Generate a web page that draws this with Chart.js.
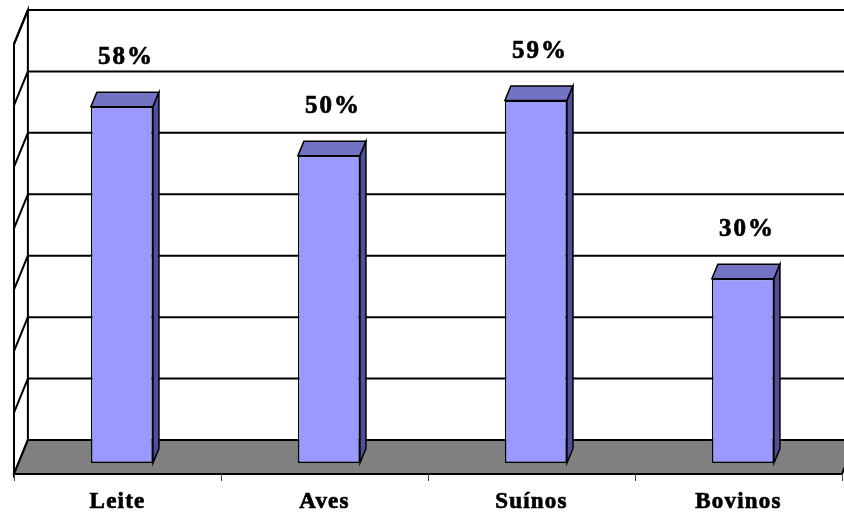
<!DOCTYPE html>
<html>
<head>
<meta charset="utf-8">
<style>
  html, body { margin: 0; padding: 0; background: #fff; }
  #wrap { width: 844px; height: 514px; overflow: hidden; position: relative; }
  #chart { position: absolute; left: 0; top: 0; }
</style>
</head>
<body>
<div id="wrap"><canvas id="chart" width="870" height="514"></canvas></div>

<script src="https://cdn.jsdelivr.net/npm/chart.js"></script>
<script>
/* ---------------- DATA ---------------- */
const categories = ['Leite', 'Aves', 'Suínos', 'Bovinos'];
const values = [58, 50, 59, 30];
const gridTicks = [0, 10, 20, 30, 40, 50, 60, 70];

/* ---------------- 3D LOOK ---------------- */
// offsets from the bar front plane
const WALL = { dx: 9.5, dy: -23 };    // back wall
const FRONT = { dx: -4.4, dy: 11 };   // front edge of floor
const DEPTH = { dx: 6, dy: -14.5 };   // bar depth

function poly(ctx, pts, fill) {
  ctx.beginPath();
  ctx.moveTo(pts[0][0], pts[0][1]);
  for (let i = 1; i < pts.length; i++) ctx.lineTo(pts[i][0], pts[i][1]);
  ctx.closePath();
  if (fill) { ctx.fillStyle = fill; ctx.fill(); }
  ctx.stroke();
}

// heavier text, closer to the old GDI bold look
function boldText(ctx, txt, px, py) {
  ctx.fillText(txt, px, py);
  ctx.strokeText(txt, px, py);
}

const box3d = {
  id: 'box3d',
  beforeDatasetsDraw(chart) {
    const ctx = chart.ctx;
    const x = chart.scales.x, y = chart.scales.y;
    const left = chart.chartArea.left, right = chart.chartArea.right;
    const y0 = y.getPixelForValue(0);
    const yTop = y.getPixelForValue(gridTicks[gridTicks.length - 1]);
    ctx.save();
    ctx.strokeStyle = '#000';
    ctx.lineWidth = 2;

    // left wall (white)
    poly(ctx, [
      [left + WALL.dx, yTop + WALL.dy], [left + WALL.dx, y0 + WALL.dy],
      [left + FRONT.dx, y0 + FRONT.dy], [left + FRONT.dx, yTop + FRONT.dy]
    ], '#fff');

    // back wall gridlines + left wall diagonals
    gridTicks.forEach(v => {
      const py = y.getPixelForValue(v);
      ctx.beginPath();
      ctx.moveTo(left + WALL.dx, py + WALL.dy);
      ctx.lineTo(right + WALL.dx, py + WALL.dy);
      ctx.stroke();
      if (v > 0) {
        ctx.beginPath();
        ctx.moveTo(left + WALL.dx, py + WALL.dy);
        ctx.lineTo(left + FRONT.dx, py + FRONT.dy);
        ctx.stroke();
      }
    });

    // floor
    poly(ctx, [
      [left + WALL.dx, y0 + WALL.dy], [right + WALL.dx, y0 + WALL.dy],
      [right + FRONT.dx, y0 + FRONT.dy], [left + FRONT.dx, y0 + FRONT.dy]
    ], '#808080');

    // category ticks on the floor front edge
    ctx.lineWidth = 1;
    ctx.strokeStyle = '#444';
    const half = (x.getPixelForValue(1) - x.getPixelForValue(0)) / 2;
    for (let i = 0; i <= categories.length; i++) {
      const px = x.getPixelForValue(0) - half + i * half * 2 + FRONT.dx;
      ctx.beginPath();
      ctx.moveTo(Math.round(px) + 0.5, y0 + FRONT.dy);
      ctx.lineTo(Math.round(px) + 0.5, y0 + FRONT.dy + 7);
      ctx.stroke();
    }

    // top and side faces of the bars
    ctx.strokeStyle = '#000';
    ctx.lineWidth = 1.5;
    chart.getDatasetMeta(0).data.forEach(bar => {
      const x1 = bar.x - bar.width / 2, x2 = bar.x + bar.width / 2;
      const t = bar.y, b = bar.base;
      poly(ctx, [[x1, t], [x1 + DEPTH.dx, t + DEPTH.dy], [x2 + DEPTH.dx, t + DEPTH.dy], [x2, t]], '#7373C4');
      poly(ctx, [[x2, t], [x2 + DEPTH.dx, t + DEPTH.dy], [x2 + DEPTH.dx, b + DEPTH.dy], [x2, b]], '#4F4F9C');
    });
    ctx.restore();
  },
  afterDatasetsDraw(chart) {
    const ctx = chart.ctx;
    const x = chart.scales.x, y = chart.scales.y;
    ctx.save();
    ctx.fillStyle = '#000';
    ctx.strokeStyle = '#000';
    ctx.lineWidth = 0.7;
    ctx.textAlign = 'center';
    ctx.textBaseline = 'alphabetic';

    // value labels
    ctx.font = 'bold 25px "Liberation Serif", "Times New Roman", serif';
    ctx.letterSpacing = '2px';
    values.forEach((v, i) => {
      boldText(ctx, v + '%', x.getPixelForValue(i) + 4, y.getPixelForValue(v) - 43);
    });

    // category labels
    ctx.font = 'bold 23px "Liberation Serif", "Times New Roman", serif';
    ctx.letterSpacing = '1.2px';
    categories.forEach((c, i) => {
      boldText(ctx, c, x.getPixelForValue(i) + FRONT.dx, 508);
    });
    ctx.restore();
  }
};

/* ---------------- CHART ---------------- */
new Chart(document.getElementById('chart').getContext('2d'), {
  type: 'bar',
  data: {
    labels: categories,
    datasets: [{
      data: values,
      backgroundColor: '#9999FF',
      borderColor: '#000',
      borderWidth: 1.5,
      borderSkipped: false,
      categoryPercentage: 1,
      barPercentage: 0.3
    }]
  },
  options: {
    responsive: false,
    animation: false,
    layout: { padding: { left: 18.4, right: 23.6, top: 33, bottom: 51 } },
    plugins: { legend: { display: false }, tooltip: { enabled: false } },
    scales: {
      x: { display: false },
      y: { display: false, min: 0, max: 70 }
    }
  },
  plugins: [box3d]
});
</script>
</body>
</html>
